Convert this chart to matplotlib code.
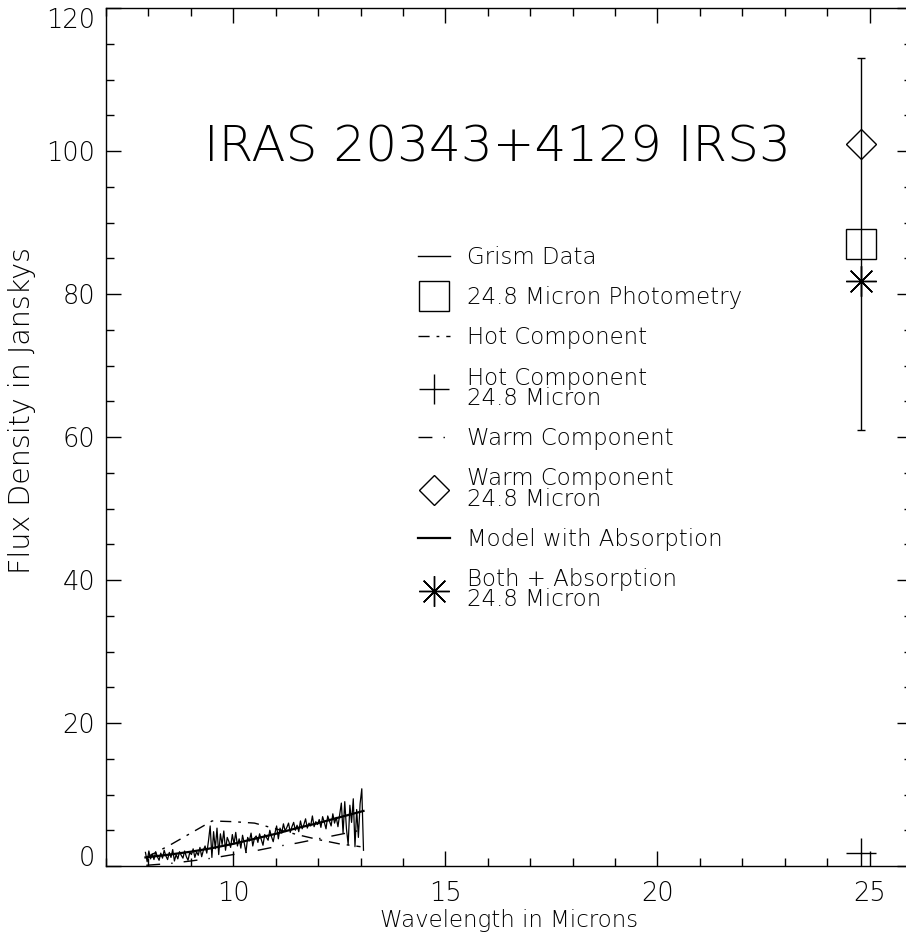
import matplotlib
matplotlib.use('Agg')
import matplotlib.pyplot as plt
from matplotlib.lines import Line2D
from matplotlib.ticker import MultipleLocator
import numpy as np

# ── Data ─────────────────────────────────────────────────────
# grism spectrum, regular sampling between the two end wavelengths
grism_start, grism_end = 7.93, 13.07
grism_flux = [
    1.9, 0.6, 2.1, 1.0, 1.7, 0.9, 2.0, 1.3, 0.8, 1.8, 1.1, 2.2, 1.4, 0.9, 1.9,
    1.2, 2.3, 0.7, 1.6, 1.0, 2.0, 1.5, 1.1, 2.1, 1.3, 0.8, 1.9, 1.6, 2.4, 1.2,
    2.0, 1.5, 2.6, 1.3, 2.2,
    2.8, 1.8, 3.5, 5.6, 1.2, 4.8, 2.4, 5.3, 1.6, 4.5, 3.0, 4.9, 2.2, 4.0, 3.4,
    2.6, 4.4, 3.1, 4.7, 2.8,
    3.8, 2.5, 4.3, 3.2, 1.9, 4.0, 3.5, 4.6, 2.8, 3.9, 4.2, 3.3, 4.5, 3.7, 2.9,
    4.4, 4.0, 3.6, 5.0, 4.1, 3.4, 4.6,
    5.6, 3.8, 5.3, 4.6, 5.9, 4.9, 5.4, 6.0, 4.7, 5.5, 6.1, 5.0, 5.7, 4.8, 6.3,
    5.2, 5.8, 6.6, 5.3, 6.0, 5.6, 7.0, 5.5, 6.2, 5.8,
    6.5, 5.4, 6.9, 6.1, 5.2, 7.0, 6.3, 5.6, 7.3, 6.0, 6.8, 5.5, 7.1,
    8.8, 4.6, 9.0, 5.2, 3.0, 8.5, 6.1, 9.4, 2.7, 7.9, 4.0, 8.7, 10.8, 2.2,
]
grism_wl = np.linspace(grism_start, grism_end, len(grism_flux))

hot_wl   = [7.95, 8.5, 9.0, 9.5, 10.0, 10.5, 11.0, 11.5, 12.0, 12.5, 13.0]
hot_flux = [1.2, 2.9, 4.6, 6.3, 6.2, 6.0, 5.2, 4.4, 3.7, 3.1, 2.7]

warm_wl   = [7.95, 8.5, 9.0, 9.5, 10.0, 10.5, 11.0, 11.5, 12.0, 12.5, 13.0]
warm_flux = [0.1, 0.35, 0.7, 1.1, 1.6, 2.1, 2.7, 3.2, 3.8, 4.4, 5.0]

model_wl   = [7.93, 8.5, 9.0, 9.5, 10.0, 10.5, 11.0, 11.5, 12.0, 12.5, 13.07]
model_flux = [1.2, 1.6, 2.0, 2.5, 3.1, 3.8, 4.5, 5.3, 6.0, 6.8, 7.7]

phot_wl, phot_flux, phot_err = 24.8, 87.0, 26.0
hot_24, warm_24, both_24 = 1.8, 101.0, 81.8

HOT_LS = (0, (8, 5, 2, 5))
WARM_LS = (0, (10, 8, 1, 8))

# ── Figure ───────────────────────────────────────────────────
plt.rcParams['font.family'] = 'DejaVu Sans'
plt.rcParams['font.weight'] = 'light'
fig = plt.figure(figsize=(9.06, 9.44), dpi=100)
ax = fig.add_axes([106/906, 78/944, 806/906, 858/944])

ax.plot(grism_wl, grism_flux, color='black', lw=0.9)
ax.plot(hot_wl, hot_flux, color='black', lw=1.0, linestyle=HOT_LS)
ax.plot(warm_wl, warm_flux, color='black', lw=1.0, linestyle=WARM_LS)
ax.plot(model_wl, model_flux, color='black', lw=1.6)

ax.errorbar([phot_wl], [phot_flux], yerr=[phot_err], fmt='none', ecolor='black',
            elinewidth=1.0, capsize=3)
ax.plot([phot_wl], [phot_flux], marker='s', ms=22, mfc='none', mec='black', mew=1.0, ls='none')
ax.plot([phot_wl], [hot_24], marker='+', ms=22, color='black', mew=1.0, ls='none')
ax.plot([phot_wl], [warm_24], marker='D', ms=15.5, mfc='none', mec='black', mew=1.0, ls='none')
ax.plot([phot_wl], [both_24], marker=(8, 2, 0), ms=22, color='black', mew=1.0, ls='none')

ax.set_xlim(7, 26)
ax.set_ylim(0, 120)
ax.xaxis.set_major_locator(MultipleLocator(5))
ax.xaxis.set_minor_locator(MultipleLocator(1))
ax.yaxis.set_major_locator(MultipleLocator(20))
ax.yaxis.set_minor_locator(MultipleLocator(5))
ax.tick_params(which='both', direction='in', top=True, right=True,
               labelsize=18.5, width=1.0)
ax.tick_params(axis='x', pad=11)
ax.tick_params(axis='y', pad=8)
ax.tick_params(which='major', length=11)
ax.tick_params(which='minor', length=6)
for s in ax.spines.values():
    s.set_linewidth(1.0)

fig.text(509/906, 1 - 921/944, "Wavelength in Microns", ha='center', va='center', fontsize=16.5)
fig.text(22/906, 1 - 410/944, "Flux Density in Janskys", ha='center', va='center',
         rotation=90, fontsize=20.5)

fig.text(497/906, 1 - 147/944, "IRAS 20343+4129 IRS3",
         ha='center', va='center', fontsize=36)

handles = [
    Line2D([], [], color='black', lw=1.0),
    Line2D([], [], marker='s', ms=22, mfc='none', mec='black', ls='none'),
    Line2D([], [], color='black', lw=1.0, linestyle=HOT_LS),
    Line2D([], [], marker='+', ms=22, color='black', ls='none'),
    Line2D([], [], color='black', lw=1.0, linestyle=WARM_LS),
    Line2D([], [], marker='D', ms=15.5, mfc='none', mec='black', ls='none'),
    Line2D([], [], color='black', lw=1.6),
    Line2D([], [], marker=(8, 2, 0), ms=22, color='black', ls='none'),
]
labels = [
    "Grism Data",
    "24.8 Micron Photometry",
    "Hot Component",
    "Hot Component\n24.8 Micron",
    "Warm Component",
    "Warm Component\n24.8 Micron",
    "Model with Absorption",
    "Both + Absorption\n24.8 Micron",
]
leg = ax.legend(handles, labels, loc='upper left', frameon=False, fontsize=16.5,
                bbox_to_anchor=(418/906, 1 - 246/944), bbox_transform=fig.transFigure,
                borderpad=0, borderaxespad=0, handlelength=1.4, handletextpad=0.75,
                labelspacing=0.75, numpoints=1)
for t in leg.get_texts():
    t.set_linespacing(0.85)

# IDL-style: top label hangs below its tick, bottom label sits on it
fig.canvas.draw()
for tk in ax.yaxis.get_major_ticks():
    if np.isclose(tk.get_loc(), 120):
        tk.label1.set_verticalalignment('top')
    elif np.isclose(tk.get_loc(), 0):
        tk.label1.set_verticalalignment('baseline')

fig.savefig("out.png", dpi=100)
